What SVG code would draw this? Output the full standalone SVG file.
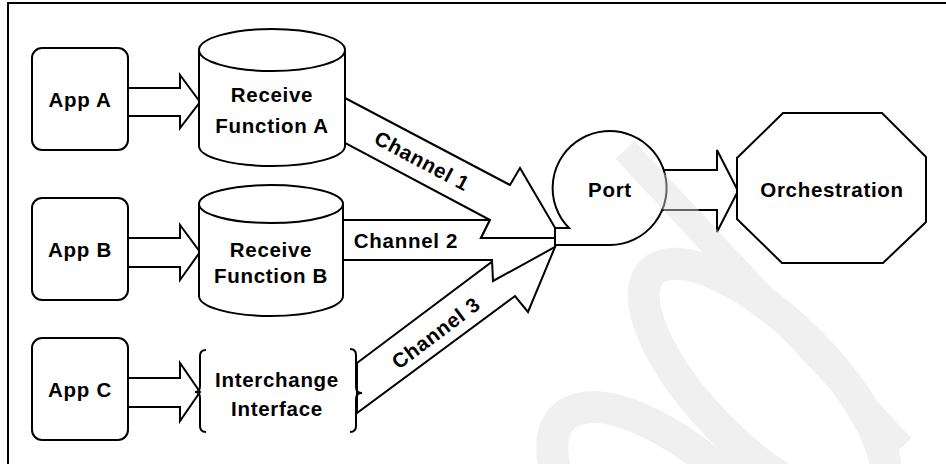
<svg xmlns="http://www.w3.org/2000/svg" width="946" height="464" viewBox="0 0 946 464">
<style>
.s{fill:#fff;stroke:#000;stroke-width:2;stroke-linejoin:miter}
.o{fill:none;stroke:#000;stroke-width:2}
.t{font-family:"Liberation Sans",Arial,sans-serif;font-weight:bold;font-size:20.5px;letter-spacing:0.7px;fill:#000;text-anchor:middle}
</style>
<rect width="946" height="464" fill="#fff"/>
<path class="o" d="M8,464 V3 H946"/>
<g id="connectors">
<polygon class="s" points="128,88 180,88 180,75 200,102 180,128 180,116 128,116"/>
<polygon class="s" points="128,238 180,238 180,225 200,252 180,280 180,267 128,267"/>
<polygon class="s" points="128,378 180,378 180,363 200,392 180,421 180,407 128,407"/>
<polygon class="s" points="357,363 497,258 555,247 528,312 515,296 357,413"/>
<polygon class="s" points="343,220 490,220 481,238 555,238 555,247 493,281 492,260 343,260"/>
<polygon class="s" points="345,98 510,185 520,168 561,238 481,238 490,220 345,143"/>
<polygon class="s" points="660,170 717,170 717,150 738,191 717,232 717,210 660,210"/>
<text class="t" transform="translate(422,161) rotate(28)" y="7">Channel 1</text>
<text class="t" x="406" y="248">Channel 2</text>
<text class="t" transform="translate(436,333) rotate(-37)" y="7">Channel 3</text>
</g>
<g id="appA"><rect class="s" x="32" y="48" width="96" height="102" rx="10"/><text class="t" x="80" y="107">App A</text></g>
<g id="appB"><rect class="s" x="32" y="198" width="96" height="102" rx="10"/><text class="t" x="80" y="257">App B</text></g>
<g id="appC"><rect class="s" x="32" y="338" width="96" height="102" rx="10"/><text class="t" x="80" y="397">App C</text></g>
<g id="recvA">
<path class="s" d="M199,50 V146 A73,20 0 0 0 345,146 V50"/>
<ellipse class="s" cx="272" cy="50" rx="73" ry="21"/>
<text class="t" x="272" y="102">Receive</text>
<text class="t" x="272" y="133">Function A</text>
</g>
<g id="recvB">
<path class="s" d="M199,204 V296 A72,20 0 0 0 343,296 V204"/>
<ellipse class="s" cx="271" cy="204" rx="72" ry="19"/>
<text class="t" x="271" y="257">Receive</text>
<text class="t" x="271" y="283">Function B</text>
</g>
<g id="interchange">
<path class="o" d="M206,350 Q200,350 200,356 L200,386 Q200,392 195,392 Q200,392 200,398 L200,426 Q200,432 206,432"/>
<path class="o" d="M350,349 Q356,349 356,355 L356,387 Q356,393 362,393 Q356,393 356,399 L356,426 Q356,432 350,432"/>
<text class="t" x="277" y="387">Interchange</text>
<text class="t" x="277" y="416">Interface</text>
</g>
<g id="port">
<path class="s" d="M569,228 A57,57 0 1 1 610,245 L555,245 L555,228 Z"/>
<text class="t" x="610" y="197">Port</text>
</g>
<g id="orchestration">
<polygon class="s" points="783,113 882,113 926,157 926,222 883,263 782,263 737,219 737,158"/>
<text class="t" x="832" y="197">Orchestration</text>
</g>
<g id="watermark" opacity="0.45" fill="none" stroke="#e0e0e0">
<line x1="625" y1="150" x2="902" y2="447" stroke-width="26"/>
<ellipse cx="765" cy="385" rx="160" ry="62" stroke-width="32" transform="rotate(45 765 385)"/>
<ellipse cx="690" cy="545" rx="180" ry="75" stroke-width="32" transform="rotate(45 690 545)"/>
</g>
</svg>
